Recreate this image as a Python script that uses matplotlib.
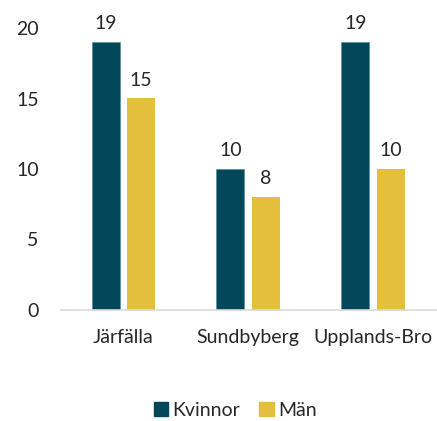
import matplotlib
matplotlib.use("Agg")
import matplotlib.pyplot as plt
import numpy as np
from matplotlib.patches import Patch

categories = ["Järfälla", "Sundbyberg", "Upplands-Bro"]
kvinnor = [19, 10, 19]
man = [15, 8, 10]
series_names = ["Kvinnor", "Män"]
yticks = [0, 5, 10, 15, 20]

c_k = "#03475b"
c_m = "#e3bf3d"
txt = "#262626"

plt.rcParams['font.family'] = ['Lato', 'DejaVu Sans']

fig = plt.figure(figsize=(4.37, 4.21), dpi=100)
ax = fig.add_axes([61/437, 1 - 310/421, (435.5-61)/437, (310-28)/421])

x = np.arange(len(categories))
w = 0.225
off = 0.1426
b1 = ax.bar(x - off, kvinnor, w, color=c_k, edgecolor="#5a8da0", linewidth=0.5)
b2 = ax.bar(x + off, man, w, color=c_m)

fs = 14
for bars, vals in ((b1, kvinnor), (b2, man)):
    for r, v in zip(bars, vals):
        ax.text(r.get_x() + r.get_width()/2, v + 0.7, str(v), ha="center", va="bottom",
                fontsize=fs, color=txt, clip_on=False)

ax.set_xlim(-0.5, 2.5)
ax.set_ylim(0, 20)
ax.set_yticks(yticks)
ax.set_xticks(x)
ax.set_xticklabels(categories)
ax.tick_params(axis="both", length=0, labelsize=fs, labelcolor=txt)
ax.tick_params(axis="y", pad=16)
ax.tick_params(axis="x", pad=14)
for s in ("top", "right", "left"):
    ax.spines[s].set_visible(False)
ax.spines["bottom"].set_color("#d9d9d9")
ax.spines["bottom"].set_linewidth(1.2)

handles = [Patch(color=c_k), Patch(color=c_m)]
fig.legend(handles, series_names, loc="center", bbox_to_anchor=(235/437, 1 - 410/421),
           ncol=2, frameon=False, fontsize=fs, handlelength=0.75, handleheight=0.75,
           handletextpad=0.2, columnspacing=1.0, labelcolor=txt)

fig.savefig("out.png", dpi=100)
